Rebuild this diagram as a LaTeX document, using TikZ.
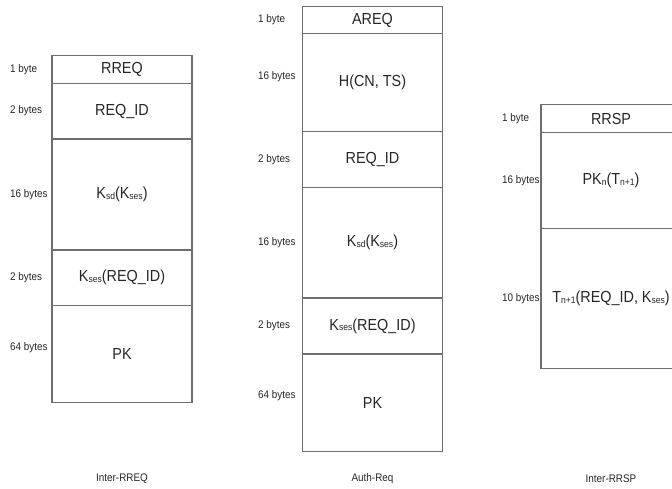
\documentclass[tikz,border=0pt]{standalone}
\usepackage{fontspec}
\setmainfont[FakeStretch=0.9]{Liberation Sans}
\usepackage{xcolor}
\usepackage{tikz}
\usetikzlibrary{positioning}
\definecolor{linegray}{HTML}{6E6E6E}
\definecolor{inkgray}{HTML}{262626}
\newcommand{\lo}[1]{\raisebox{-0.6pt}{\fontsize{9.5}{10}\selectfont #1}}

\begin{document}
\begin{tikzpicture}[
  x=1pt, y=-1pt,
  node distance=0pt,
  field/.style={rectangle, draw=linegray, line width=1.1pt, minimum width=140pt, inner sep=0pt, outer sep=0pt, text=inkgray, font=\fontsize{16}{18}\selectfont},
  bytes/.style={anchor=west, inner sep=0pt, text=inkgray, font=\fontsize{11}{12}\selectfont},
  msgname/.style={inner sep=0pt, text=inkgray, font=\fontsize{11}{12}\selectfont}
]
\useasboundingbox (0,0) rectangle (672,489);
\clip (0,0) rectangle (672,489);
% Inter-RREQ
\node[field, minimum height=27.6pt] (rreq) at (122,69.5) {RREQ};
\node[field, minimum height=55.7pt, below=of rreq] (rreqid) {REQ\_ID};
\node[field, minimum height=111pt, below=of rreqid] (rreqkey) {K\lo{sd}(K\lo{ses})};
\node[field, minimum height=55.7pt, below=of rreqkey] (rreqenc) {K\lo{ses}(REQ\_ID)};
\node[field, minimum height=97pt, below=of rreqenc] (rreqpk) {PK};
\node[bytes] (rreqb1) at (10,0 |- rreq) {1 byte};
\node[bytes] (rreqb2) at (10,0 |- rreqid) {2 bytes};
\node[bytes] (rreqb3) at (10,0 |- rreqkey) {16 bytes};
\node[bytes] (rreqb4) at (10,0 |- rreqenc) {2 bytes};
\node[bytes, yshift=7pt] (rreqb5) at (10,0 |- rreqpk) {64 bytes};
\node[msgname] (rreqname) at (rreq |- 0,479) {Inter-RREQ};
% Auth-Req
\node[field, minimum height=26.6pt] (areq) at (372.5,20) {AREQ};
\node[field, minimum height=98.4pt, below=of areq] (areqhash) {H(CN, TS)};
\node[field, minimum height=55.6pt, below=of areqhash] (areqid) {REQ\_ID};
\node[field, minimum height=110.7pt, below=of areqid] (areqkey) {K\lo{sd}(K\lo{ses})};
\node[field, minimum height=56pt, below=of areqkey] (areqenc) {K\lo{ses}(REQ\_ID)};
\node[field, minimum height=97.7pt, below=of areqenc] (areqpk) {PK};
\node[bytes] (areqb1) at (258,0 |- areq) {1 byte};
\node[bytes, yshift=6pt] (areqb2) at (258,0 |- areqhash) {16 bytes};
\node[bytes] (areqb3) at (258,0 |- areqid) {2 bytes};
\node[bytes] (areqb4) at (258,0 |- areqkey) {16 bytes};
\node[bytes] (areqb5) at (258,0 |- areqenc) {2 bytes};
\node[bytes, yshift=7pt] (areqb6) at (258,0 |- areqpk) {64 bytes};
\node[msgname] (areqname) at (areq |- 0,479) {Auth-Req};
% Inter-RRSP
\node[field, minimum height=27.3pt] (rrsp) at (611,118.6) {RRSP};
\node[field, minimum height=96.7pt, below=of rrsp] (rrsppk) {PK\lo{n}(T\lo{n+1})};
\node[field, minimum height=139.3pt, below=of rrsppk] (rrspenc) {T\lo{n+1}(REQ\_ID, K\lo{ses})};
\node[bytes] (rrspb1) at (502,0 |- rrsp) {1 byte};
\node[bytes] (rrspb2) at (502,0 |- rrsppk) {16 bytes};
\node[bytes] (rrspb3) at (502,0 |- rrspenc) {10 bytes};
\node[msgname] (rrspname) at (rrsp |- 0,479) {Inter-RRSP};
\end{tikzpicture}
\end{document}
